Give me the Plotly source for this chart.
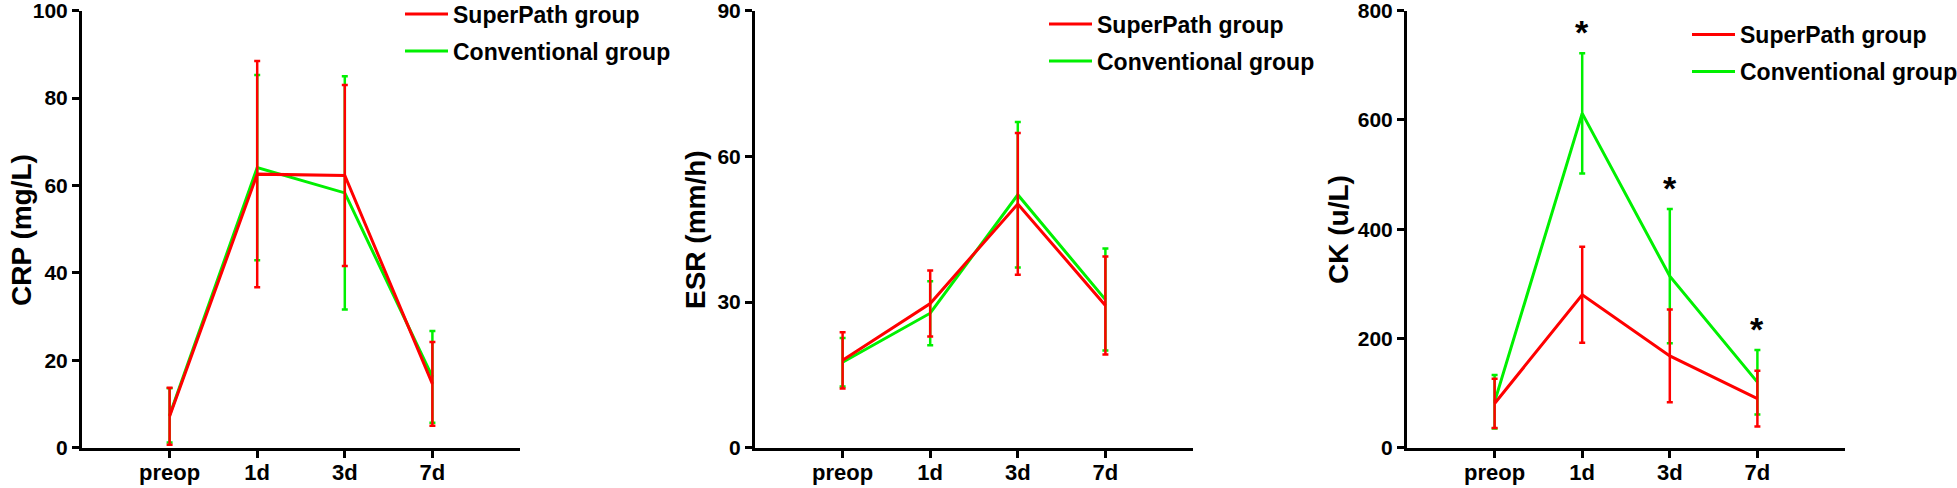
import plotly.graph_objects as go
from plotly.subplots import make_subplots

# time points
timepoints = ["preop", "1d", "3d", "7d"]

# CRP (mg/L), mean and SD
crp_superpath = [7.2, 62.6, 62.3, 14.6]
crp_superpath_sd = [6.5, 25.9, 20.7, 9.6]
crp_conventional = [7.4, 64.1, 58.3, 16.2]
crp_conventional_sd = [6.2, 21.2, 26.7, 10.5]

# ESR (mm/h)
esr_superpath = [18.0, 29.7, 50.2, 29.3]
esr_superpath_sd = [5.8, 6.8, 14.6, 10.1]
esr_conventional = [17.6, 27.7, 52.1, 30.5]
esr_conventional_sd = [5.0, 6.6, 15.0, 10.5]

# CK (u/L)
ck_superpath = [81, 280, 168, 90]
ck_superpath_sd = [45, 88, 85, 51]
ck_conventional = [84, 612, 314, 120]
ck_conventional_sd = [49, 110, 123, 59]

# significant differences in CK
ck_significant = ["1d", "3d", "7d"]

RED = "#FF0000"
GREEN = "#00F000"
FONT = "Liberation Sans"

panels = [
    ("CRP (mg/L)", crp_superpath, crp_superpath_sd, crp_conventional, crp_conventional_sd, 100, 20),
    ("ESR (mm/h)", esr_superpath, esr_superpath_sd, esr_conventional, esr_conventional_sd, 90, 30),
    ("CK (u/L)", ck_superpath, ck_superpath_sd, ck_conventional, ck_conventional_sd, 800, 200),
]

W, H = 1957, 488


def fx(px):
    return px / W


def fy(py):
    return 1 - py / H


fig = make_subplots(rows=1, cols=3)

x_domains = [(fx(82), fx(520)), (fx(755), fx(1193)), (fx(1407), fx(1845))]
y_domain = (fy(447.7), fy(10.7))
# y-axis title centres (px)
title_x = [21, 695, 1338]
# legend text start and row centres (px) for each panel
legend_text_x = [453, 1097, 1740]
legend_rows = [(15, 52), (25, 62), (35.5, 72.5)]

n_leg = 0
for i, (title, sp, sp_sd, cv, cv_sd, ymax, dtick) in enumerate(panels):
    col = i + 1
    series = [("SuperPath group", sp, sp_sd, RED), ("Conventional group", cv, cv_sd, GREEN)]
    # green drawn first, red on top
    for j in (1, 0):
        name, vals, sd, color = series[j]
        n_leg += 1
        lg = "legend" if n_leg == 1 else f"legend{n_leg}"
        fig.add_trace(go.Scatter(
            x=timepoints, y=vals, mode="lines", name=name,
            line=dict(color=color, width=3),
            error_y=dict(type="data", array=sd, color=color, thickness=2.5, width=3),
            legend=lg,
        ), row=1, col=col)
        fig.update_layout({lg: dict(
            x=fx(legend_text_x[i] - 53), y=fy(legend_rows[i][j] - 22.5),
            xanchor="left", yanchor="top",
            bgcolor="rgba(0,0,0,0)", borderwidth=0,
            font=dict(family=FONT, size=23, color="black", weight="bold"),
            itemwidth=43,
        )})

    fig.update_xaxes(
        row=1, col=col, domain=x_domains[i], type="category",
        categoryorder="array", categoryarray=timepoints, range=[-1, 4],
        showline=True, linecolor="black", linewidth=3,
        ticks="outside", ticklen=7, tickwidth=3, tickcolor="black",
        showgrid=False, zeroline=False, ticklabelstandoff=-4,
        tickfont=dict(family=FONT, size=22, color="black", weight="bold"),
    )
    fig.update_yaxes(
        row=1, col=col, domain=y_domain, range=[0, ymax], dtick=dtick,
        showline=True, linecolor="black", linewidth=3,
        ticks="outside", ticklen=7, tickwidth=3, tickcolor="black",
        showgrid=False, zeroline=False, ticklabeloverflow="allow",
        tickfont=dict(family=FONT, size=21, color="black", weight="bold"),
    )
    # axis title as rotated text
    fig.add_annotation(
        x=fx(title_x[i]), y=fy(230), xref="paper", yref="paper",
        text=title, textangle=-90, showarrow=False,
        xanchor="center", yanchor="middle",
        font=dict(family=FONT, size=28, color="black", weight="bold"),
    )

# asterisks above the CK error bars
for tp in ck_significant:
    k = timepoints.index(tp)
    fig.add_annotation(
        x=tp, y=ck_conventional[k] + ck_conventional_sd[k], xref="x3", yref="y3",
        text="*", showarrow=False, yanchor="bottom", yshift=0,
        font=dict(family=FONT, size=34, color="black", weight="bold"),
    )

fig.update_layout(
    width=W, height=H,
    margin=dict(l=0, r=0, t=0, b=0, autoexpand=False),
    paper_bgcolor="white", plot_bgcolor="white",
    showlegend=True,
)

# drop the default 8px body margin so the figure fills the window exactly
fig.write_html("out.html", config={"displayModeBar": False},
               post_script="document.body.style.margin = '0';")
